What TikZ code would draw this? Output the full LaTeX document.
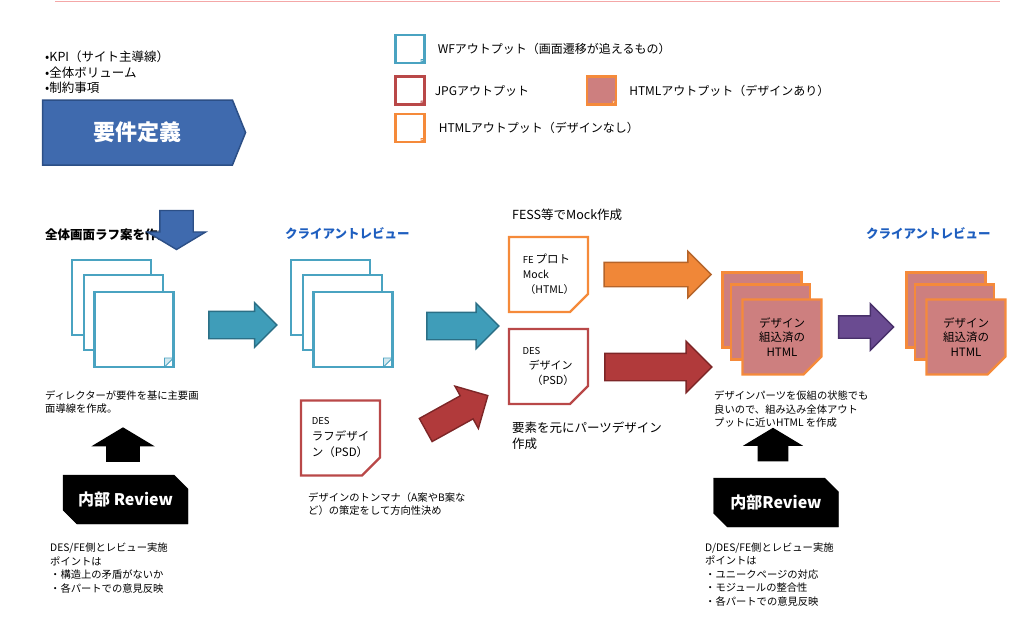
\documentclass[tikz,border=0pt]{standalone}
\usepackage{fontspec}
\setmainfont{Noto Sans CJK JP}
\usetikzlibrary{positioning,shapes.misc,shapes.symbols,shapes.arrows}

\definecolor{wfline}{HTML}{4AA3C1}
\definecolor{jpgline}{HTML}{B94848}
\definecolor{htmlline}{HTML}{F58A3A}
\definecolor{htmlfill}{HTML}{CD7F7F}
\definecolor{reqblue}{HTML}{3F6AAE}
\definecolor{reqedge}{HTML}{2C4F86}
\definecolor{tealfill}{HTML}{3F9DB9}
\definecolor{tealedge}{HTML}{2B6F86}
\definecolor{redfill}{HTML}{B13A3B}
\definecolor{rededge}{HTML}{7D2627}
\definecolor{orangefill}{HTML}{F08738}
\definecolor{orangeedge}{HTML}{B5642A}
\definecolor{purplefill}{HTML}{6A4B91}
\definecolor{purpleedge}{HTML}{48306A}
\definecolor{crblue}{HTML}{1E5EBF}
\definecolor{topline}{HTML}{F4A7A7}

\begin{document}
\begin{tikzpicture}[
x=1pt,y=-1pt,
page/.style 2 args={chamfered rectangle,chamfered rectangle corners=south east,chamfered rectangle sep=#2,draw=#1,fill=white,line width=2.2pt,inner sep=0pt,
  path picture={\filldraw[draw=#1,fill=#1!25,line width=0.9pt] ([xshift=-#2]path picture bounding box.south east) -- ([yshift=#2]path picture bounding box.south east) -- ([xshift=-#2,yshift=#2]path picture bounding box.south east) -- cycle;}},
bigpage/.style={minimum width=79pt,minimum height=75pt},
smallpage/.style={minimum width=29pt,minimum height=28pt},
pagetext/.style={align=left,font=\fontsize{11.5}{16}\selectfont},
htmltext/.style={align=center,font=\fontsize{11.5}{14.5}\selectfont},
legendtext/.style={inner sep=0pt,anchor=west,font=\fontsize{12}{14}\selectfont},
note/.style={inner sep=0pt,anchor=west,align=left,font=\fontsize{10.3}{13.5}\selectfont},
bignote/.style={inner sep=0pt,anchor=west,align=left,font=\fontsize{12.5}{15.5}\selectfont},
title/.style={inner sep=0pt,anchor=west,font=\bfseries\fontsize{12.5}{14}\selectfont},
barrow/.style={single arrow,single arrow head indent=0pt,inner sep=0pt,line width=1.4pt},
revbox/.style={chamfered rectangle,chamfered rectangle corners={north east,south west},chamfered rectangle sep=7pt,fill=black,draw=black,text=white,
  font=\bfseries\fontsize{16}{18}\selectfont,minimum width=125pt,minimum height=49pt,inner sep=0pt}
]
\useasboundingbox (0,0) rectangle (1018,619);
\draw[topline,line width=1pt] (55,1) -- (1000,1);

% requirements
\node[note,font=\fontsize{12.5}{15.5}\selectfont] (kpi) at (45,72.5) {•KPI（サイト主導線）\\•全体ボリューム\\•制約事項};
\node[signal,signal to=east,signal pointer angle=136,fill=reqblue,draw=reqedge,line width=1.5pt,minimum width=203pt,minimum height=65pt,
  text=white,font=\bfseries\fontsize{22}{24}\selectfont] (req) at (137.5,132.5) {要件定義};

% legend
\node[page={wfline}{3.5pt},smallpage] (lgwf) at (410,49) {};
\node[legendtext,right=12pt of lgwf] (lgwft) {WFアウトプット（画面遷移が追えるもの）};
\node[page={jpgline}{3.5pt},smallpage] (lgjpg) at (410,90.5) {};
\node[legendtext,right=9pt of lgjpg] (lgjpgt) {JPGアウトプット};
\node[page={htmlline}{3.5pt},smallpage,fill=htmlfill] (lghtml) at (601.5,90.5) {};
\node[legendtext,right=12pt of lghtml] (lghtmlt) {HTMLアウトプット（デザインあり）};
\node[page={htmlline}{3.5pt},smallpage] (lgnod) at (410,128) {};
\node[legendtext,right=13pt of lgnod] (lgnodt) {HTMLアウトプット（デザインなし）};

% rough wireframes
\node[title] (rough) at (45,235) {全体画面ラフ案を作成};
\node[barrow,fill=reqblue,draw=reqedge,shape border rotate=270,single arrow tip angle=118,inner xsep=16pt,inner ysep=0pt,single arrow head extend=12.5pt,minimum height=39pt] (down) at (176.5,225) {};
\node[page={wfline}{9pt},bigpage] (wf1a) at (111.5,297.5) {};
\node[page={wfline}{9pt},bigpage] (wf1b) at ([shift={(12,15)}]wf1a) {};
\node[page={wfline}{9pt},bigpage] (wf1c) at ([shift={(10.5,17)}]wf1b) {};
\node[note] (dirnote) at (45,402) {ディレクターが要件を基に主要画\\面導線を作成。};
\node[barrow,fill=black,draw=black,shape border rotate=90,single arrow tip angle=118,inner xsep=15.5pt,inner ysep=0pt,single arrow head extend=13pt,minimum height=33pt] (up1) at (123,449.5) {};
\node[revbox] (rev1) at (125.5,499.5) {内部 Review};
\node[note] (rev1note) at (50,568) {DES/FE側とレビュー実施\\ポイントは\\・構造上の矛盾がないか\\・各パートでの意見反映};

% client review 1
\node[barrow,fill=tealfill,draw=tealedge,inner ysep=13pt,single arrow head extend=8.5pt,minimum height=68pt] (ar1) at (236,325) {};
\node[title,text=crblue] (cr1) at (285,234) {クライアントレビュー};
\node[page={wfline}{9pt},bigpage] (wf2a) at (330.5,297.5) {};
\node[page={wfline}{9pt},bigpage] (wf2b) at ([shift={(12,15)}]wf2a) {};
\node[page={wfline}{9pt},bigpage] (wf2c) at ([shift={(10.5,17)}]wf2b) {};
\node[page={jpgline}{9pt},bigpage,pagetext] (des1) at (340.5,438) {{\fontsize{9.5}{11}\selectfont DES}\\ラフデザイ\\ン（PSD）};
\node[note] (tonnote) at (308,504) {デザインのトンマナ（A案やB案な\\ど）の策定をして方向性決め};
\node[barrow,fill=tealfill,draw=tealedge,inner ysep=13pt,single arrow head extend=9pt,minimum height=72pt] (ar2) at (456,326) {};
\node[barrow,fill=redfill,draw=rededge,rotate=29,inner ysep=12.5pt,single arrow head extend=11pt,minimum height=71pt] (ar3) at (451,416) {};

% mock
\node[bignote] (mock) at (512,215) {FESS等でMock作成};
\node[page={htmlline}{9pt},bigpage,pagetext,font=\fontsize{10.5}{15}\selectfont] (fe) at (548.5,274.5) {{\fontsize{9.5}{11}\selectfont FE}\,{\fontsize{11.5}{15}\selectfont プロト}\\Mock\\\hspace*{2pt}（HTML）};
\node[page={jpgline}{9pt},bigpage,pagetext,font=\fontsize{11}{15}\selectfont] (des2) at (548.5,366.5) {{\fontsize{9.5}{11}\selectfont DES}\\\hspace*{6pt}デザイン\\\hspace*{9pt}（PSD）};
\node[bignote] (partnote) at (512,435.5) {要素を元にパーツデザイン\\作成};
\node[barrow,fill=orangefill,draw=orangeedge,inner ysep=11.5pt,single arrow head extend=11pt,minimum height=107pt] (ar4) at (651.5,274.5) {};
\node[barrow,fill=redfill,draw=rededge,inner ysep=13pt,single arrow head extend=12pt,minimum height=107pt] (ar5) at (651.5,367) {};

% assembled html
\node[page={htmlline}{9pt},bigpage,fill=htmlfill] (ht1a) at (762,310) {};
\node[page={htmlline}{9pt},bigpage,fill=htmlfill] (ht1b) at ([shift={(8.5,12)}]ht1a) {};
\node[page={htmlline}{9pt},bigpage,fill=htmlfill,htmltext] (ht1c) at ([shift={(11.5,15)}]ht1b) {デザイン\\組込済の\\HTML};
\node[note] (assnote) at (714,409.5) {デザインパーツを仮組の状態でも\\良いので、組み込み全体アウト\\プットに近いHTML を作成};
\node[barrow,fill=black,draw=black,shape border rotate=90,single arrow tip angle=118,inner xsep=14pt,inner ysep=0pt,single arrow head extend=13pt,minimum height=32pt] (up2) at (773,449) {};
\node[revbox] (rev2) at (776,502.5) {内部Review};
\node[note] (rev2note) at (705,574.5) {D/DES/FE側とレビュー実施\\ポイントは\\・ユニークページの対応\\・モジュールの整合性\\・各パートでの意見反映};

% client review 2
\node[barrow,fill=purplefill,draw=purpleedge,inner ysep=10.5pt,single arrow head extend=12pt,minimum height=55pt] (ar6) at (860.5,327) {};
\node[title,text=crblue] (cr2) at (866,234) {クライアントレビュー};
\node[page={htmlline}{9pt},bigpage,fill=htmlfill] (ht2a) at (946,310) {};
\node[page={htmlline}{9pt},bigpage,fill=htmlfill] (ht2b) at ([shift={(8.5,12)}]ht2a) {};
\node[page={htmlline}{9pt},bigpage,fill=htmlfill,htmltext] (ht2c) at ([shift={(11.5,15)}]ht2b) {デザイン\\組込済の\\HTML};
\end{tikzpicture}
\end{document}
